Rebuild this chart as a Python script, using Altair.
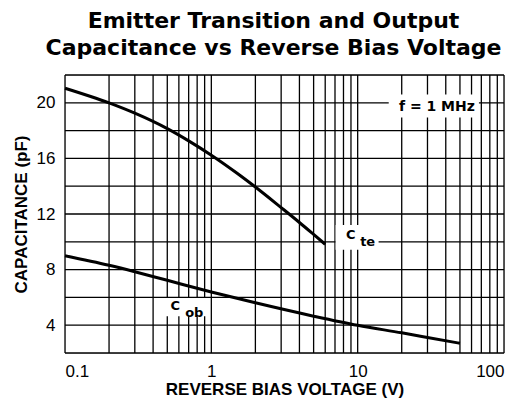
import altair as alt
import pandas as pd

# ---- data ----
cte_v = [0.1, 0.2, 0.3, 0.5, 0.7, 1, 1.5, 2, 3, 4, 5, 6]
cte_c = [21.05, 19.99, 19.25, 18.14, 17.26, 16.23, 14.93, 13.94, 12.46, 11.39, 10.53, 9.82]

cob_v = [0.1, 0.2, 0.3, 0.5, 1, 2, 5, 10, 20, 30, 50]
cob_c = [9.0, 8.31, 7.85, 7.23, 6.39, 5.61, 4.65, 3.99, 3.45, 3.12, 2.7]

x_grid = [0.1, 0.2, 0.3, 0.4, 0.5, 0.6, 0.7, 0.8, 0.9,
          1, 2, 3, 4, 5, 6, 7, 8, 9,
          10, 20, 30, 40, 50, 60, 70, 80, 90, 100]
y_grid = [2, 4, 6, 8, 10, 12, 14, 16, 18, 20, 22]
x_labels = [0.1, 1, 10, 100]
y_labels = [4, 8, 12, 16, 20]

# annotation boxes (data coordinates)
box_x1 = [16.3, 7.07, 0.47]
box_x2 = [67.4, 13.9, 0.93]
box_y1 = [18.95, 9.43, 4.64]
box_y2 = [20.6, 11.2, 5.95]

main_txt = ["f = 1 MHz", "C", "C"]
main_x = [34.8, 8.96, 0.567]
main_y = [19.7, 10.46, 5.36]
main_size = [14, 13, 13]

sub_txt = ["te", "ob"]
sub_x = [11.7, 0.765]
sub_y = [10.0, 4.89]

curves = pd.DataFrame(
    {"v": cte_v + cob_v,
     "c": cte_c + cob_c,
     "s": ["Cte"] * len(cte_v) + ["Cob"] * len(cob_v)}
)
boxes = pd.DataFrame({"x1": box_x1, "x2": box_x2, "y1": box_y1, "y2": box_y2})
labels = pd.DataFrame({"t": main_txt, "x": main_x, "y": main_y, "fs": main_size})
subs = pd.DataFrame({"t": sub_txt, "x": sub_x, "y": sub_y})
xg = pd.DataFrame({"x": x_grid})
yg = pd.DataFrame({"y": y_grid})

xscale = alt.Scale(type="log", domain=[0.1, 100], nice=False)
yscale = alt.Scale(domain=[2, 22], nice=False, zero=False)

xaxis = alt.Axis(
    values=x_labels, format="~g",
    grid=False, ticks=False, domain=False, labelOverlap=False,
    labelFont="Liberation Sans", labelFontSize=17, labelColor="black", labelPadding=10,
    title="REVERSE BIAS VOLTAGE (V)", titleFont="Liberation Sans", titleFontSize=17,
    titleFontWeight="bold", titleColor="black", titlePadding=2,
)
yaxis = alt.Axis(
    values=y_labels,
    grid=False, ticks=False, domain=False, labelOverlap=False,
    labelFont="Liberation Sans", labelFontSize=17, labelColor="black", labelPadding=10,
    title="CAPACITANCE (pF)", titleFont="Liberation Sans", titleFontSize=17,
    titleFontWeight="bold", titleColor="black", titlePadding=6,
)


def X(field):
    return alt.X(field, scale=xscale, axis=xaxis)


def Y(field):
    return alt.Y(field, scale=yscale, axis=yaxis)


xrules = alt.Chart(xg).mark_rule(color="black", strokeWidth=1.3).encode(x=X("x:Q"))
yrules = alt.Chart(yg).mark_rule(color="black", strokeWidth=1.3).encode(y=Y("y:Q"))

lines = alt.Chart(curves).mark_line(color="black", strokeWidth=3, interpolate="monotone").encode(
    x=X("v:Q"), y=Y("c:Q"), detail="s:N",
)

rects = alt.Chart(boxes).mark_rect(color="white").encode(
    x=X("x1:Q"), x2="x2:Q", y=Y("y1:Q"), y2="y2:Q",
)

texts = alt.Chart(labels).mark_text(
    font="DejaVu Sans", fontWeight="bold", color="black", align="center", baseline="middle"
).encode(
    x=X("x:Q"), y=Y("y:Q"),
    text="t:N", size=alt.Size("fs:Q", scale=None, legend=None),
)

subtexts = alt.Chart(subs).mark_text(
    font="DejaVu Sans", fontWeight="bold", fontSize=13, color="black",
    align="center", baseline="middle"
).encode(x=X("x:Q"), y=Y("y:Q"), text="t:N")

chart = alt.layer(xrules, yrules, lines, rects, texts, subtexts).properties(
    width=439, height=278,
    autosize=alt.AutoSizeParams(type="none"),
    padding={"left": 57, "top": 67, "right": 12, "bottom": 50},
    title=alt.Title(
        ["Emitter Transition and Output", "Capacitance vs Reverse Bias Voltage"],
        font="DejaVu Sans", fontSize=22, fontWeight="bold", color="black",
        lineHeight=27, anchor="middle", dx=-11, offset=14,
    ),
).configure_view(stroke="black", strokeWidth=2.2).configure(background="white")

chart.save("out.html", embed_options={"renderer": "svg", "actions": False})
